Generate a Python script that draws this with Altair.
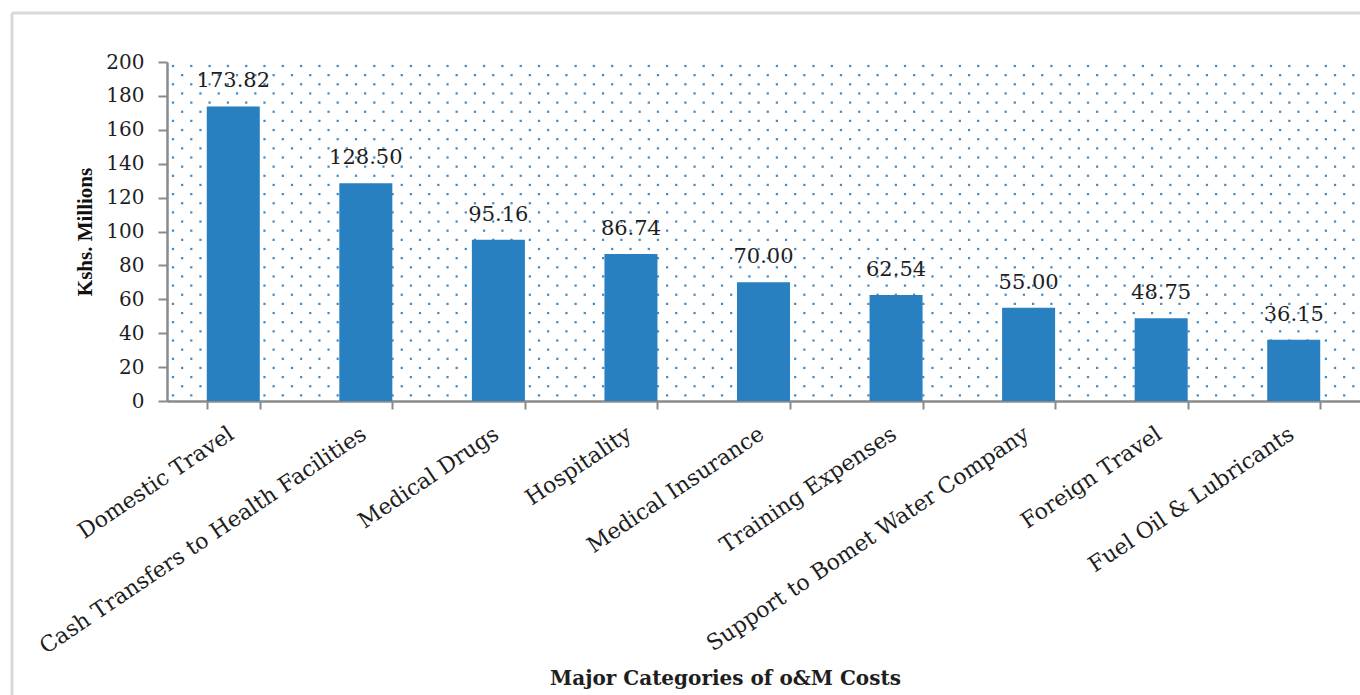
import altair as alt
import pandas as pd

categories = [
    "Domestic Travel",
    "Cash Transfers to Health Facilities",
    "Medical Drugs",
    "Hospitality",
    "Medical Insurance",
    "Training Expenses",
    "Support to Bomet Water Company",
    "Foreign Travel",
    "Fuel Oil & Lubricants",
]
values = [173.82, 128.50, 95.16, 86.74, 70.00, 62.54, 55.00, 48.75, 36.15]
y_ticks = [0, 20, 40, 60, 80, 100, 120, 140, 160, 180, 200]

df = pd.DataFrame({"category": categories, "value": values})
df["label"] = [f"{v:.2f}" for v in values]

W, H = 1193, 339
BAR = "#2880c0"
AXIS = "#8a8a8a"
TXT = "#1e1e1e"

x_enc = alt.X(
    "category:N",
    sort=categories,
    scale=alt.Scale(paddingInner=0.6, paddingOuter=0.3),
    axis=alt.Axis(
        title="Major Categories of o&M Costs",
        titleFont="DejaVu Serif",
        titleFontWeight="bold",
        titleFontSize=20,
        titleColor=TXT,
        titleX=558,
        titleY=283,
        titleAlign="center",
        titleBaseline="alphabetic",
        labelAngle=-34,
        labelAlign="right",
        labelBaseline="top",
        labelFont="DejaVu Serif",
        labelFontSize=22,
        labelColor=TXT,
        labelPadding=14,
        labelOffset=-8,
        labelLimit=0,
        labelOverlap=False,
        tickBand="extent",
        tickSize=8,
        tickWidth=2,
        tickColor=AXIS,
        domainColor=AXIS,
        domainWidth=2.5,
        grid=False,
    ),
)
y_enc = alt.Y(
    "value:Q",
    scale=alt.Scale(domain=[0, 200], nice=False),
    axis=alt.Axis(
        values=y_ticks,
        title="Kshs. Millions",
        titleFont="Liberation Serif",
        titleFontWeight="bold",
        titleFontSize=21,
        titleColor="#111111",
        titlePadding=10,
        labelFont="DejaVu Serif",
        labelFontSize=20,
        labelColor=TXT,
        labelPadding=14,
        labelOverlap=False,
        tickSize=9,
        tickWidth=2,
        tickColor=AXIS,
        domainColor=AXIS,
        domainWidth=2.5,
        grid=False,
    ),
)

bars = alt.Chart(df).mark_bar(color=BAR).encode(x=x_enc, y=y_enc)
labels = alt.Chart(df).mark_text(
    font="DejaVu Serif", fontSize=21, color=TXT, baseline="bottom", dy=-15
).encode(x=x_enc, y=y_enc, text="label:N")
base = alt.layer(bars, labels)

# dotted background pattern of the plot area (decoration only)
NC, NR, STEP = 130, 37, 9.15
dots = (
    alt.Chart(alt.sequence(0, NC * NR, as_="i"))
    .transform_calculate(c=f"datum.i % {NC}", r=f"floor(datum.i / {NC})")
    .transform_filter("(datum.c + datum.r) % 2 == 0")
    .transform_calculate(px=f"6 + datum.c * {STEP}", py=f"4 + datum.r * {STEP}")
    .mark_square(size=5, color="#2a80c2", opacity=0.9)
    .encode(
        x=alt.X("px:Q", scale=alt.Scale(domain=[0, W], nice=False, zero=False), axis=None),
        y=alt.Y("py:Q", scale=alt.Scale(domain=[0, H], nice=False, zero=False, reverse=True), axis=None),
    )
)

one = pd.DataFrame({"a": [0]})
frame_left = alt.Chart(one).mark_rule(color="#d9d9d9", strokeWidth=3).encode(
    x=alt.value(-155), y=alt.value(-49), y2=alt.value(640)
)
frame_top = alt.Chart(one).mark_rule(color="#d9d9d9", strokeWidth=3).encode(
    x=alt.value(-155), x2=alt.value(W + 10), y=alt.value(-49)
)

chart = (
    alt.layer(dots, base, frame_left, frame_top)
    .resolve_scale(x="independent", y="independent")
    .properties(
        width=W,
        height=H,
        padding={"left": 167, "top": 62, "right": 0, "bottom": 294},
        autosize=alt.AutoSizeParams(type="none"),
        background="white",
    )
    .configure_view(stroke=None)
)

chart.save("out.html", embed_options={"renderer": "svg", "actions": False})
